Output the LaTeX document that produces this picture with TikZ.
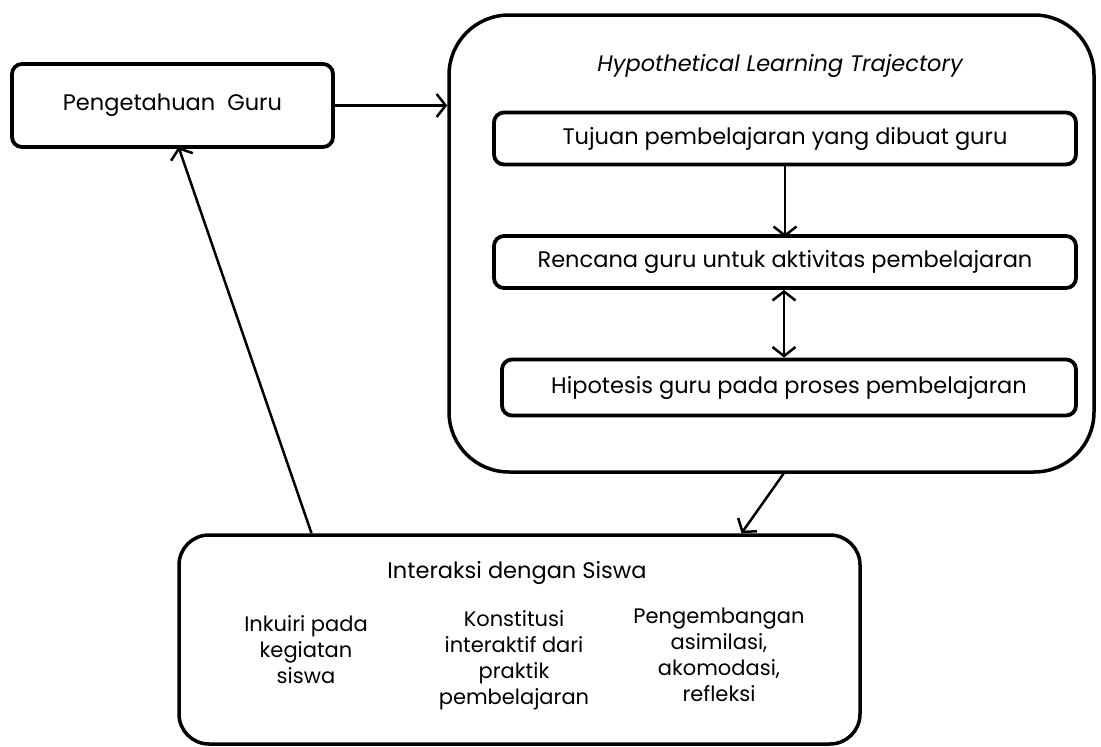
\documentclass[tikz,border=0pt]{standalone}
\usepackage{fontspec}
\setmainfont{Poppins}
\usepackage{tikz}
\usetikzlibrary{arrows.meta,positioning,calc}
\tikzset{
    %Define standard arrow tip
    >={Straight Barb[length=9pt,width=23pt,line width=2.5pt]},
    %Define style for boxes
    box/.style={
           draw,
           line width=3.8pt,
           rounded corners=10pt,
           text centered},
    title/.style={
           text centered},
    % Define arrow style
    pil/.style={
           ->,
           line width=2.5pt}
}

\begin{document}
\begin{tikzpicture}[x=1pt,y=-1pt,font=\fontsize{22.5}{27}\selectfont]
	% styles
	\tikzstyle{inner} = [box, minimum height=52pt]
	\tikzstyle{col} = [title, align=center, font=\fontsize{21}{26}\selectfont]

	\useasboundingbox (0,0) rectangle (1101,747);

	% teacher knowledge
	\node[box, minimum width=321pt, minimum height=83pt](guru) at (172.5,105.5){Pengetahuan\ \ Guru};

	% trajectory
	\node[box, rounded corners=60pt, line width=3.5pt, minimum width=645pt, minimum height=457pt](hlt) at (771.5,243.5){};
	\node[title](hlt-name) at (780,66){\itshape Hypothetical Learning Trajectory};

	\node[inner, minimum width=582pt](tujuan) at (785,138.5){Tujuan pembelajaran yang dibuat guru};
	\node[inner, minimum width=582pt](rencana) at (785,262){Rencana guru untuk aktivitas pembelajaran};
	\node[inner, minimum width=574pt, minimum height=56pt](hipotesis) at (789,387.5){Hipotesis guru pada proses pembelajaran};

	% interaction
	\node[box, rounded corners=30pt, line width=3.5pt, minimum width=681pt, minimum height=209pt](inter) at (519.5,639.5){};
	\node[title](inter-name) at (517,573){Interaksi dengan Siswa};

	\node[col](inkuiri) at (306,650){Inkuiri pada\\kegiatan\\siswa};
	\node[col](konstitusi) at (514,660){Konstitusi\\interaktif dari\\praktik\\pembelajaran};
	\node[col](pengembangan) at (719,655){Pengembangan\\asimilasi,\\akomodasi,\\refleksi};

	% connections
	\path[pil] (guru.east) edge (guru.east -| hlt.west)
	           (tujuan.south) edge ([yshift=-3pt]rencana.north)
	           ([xshift=-1pt]rencana.south) edge[<->] ([xshift=-1pt]rencana.south |- hipotesis.north)
	           ([xshift=12pt]hlt.south) edge ([xshift=222pt]inter.north)
	           ([xshift=-208pt]inter.north) edge ([xshift=6pt,yshift=2pt]guru.south);

\end{tikzpicture}
\end{document}
